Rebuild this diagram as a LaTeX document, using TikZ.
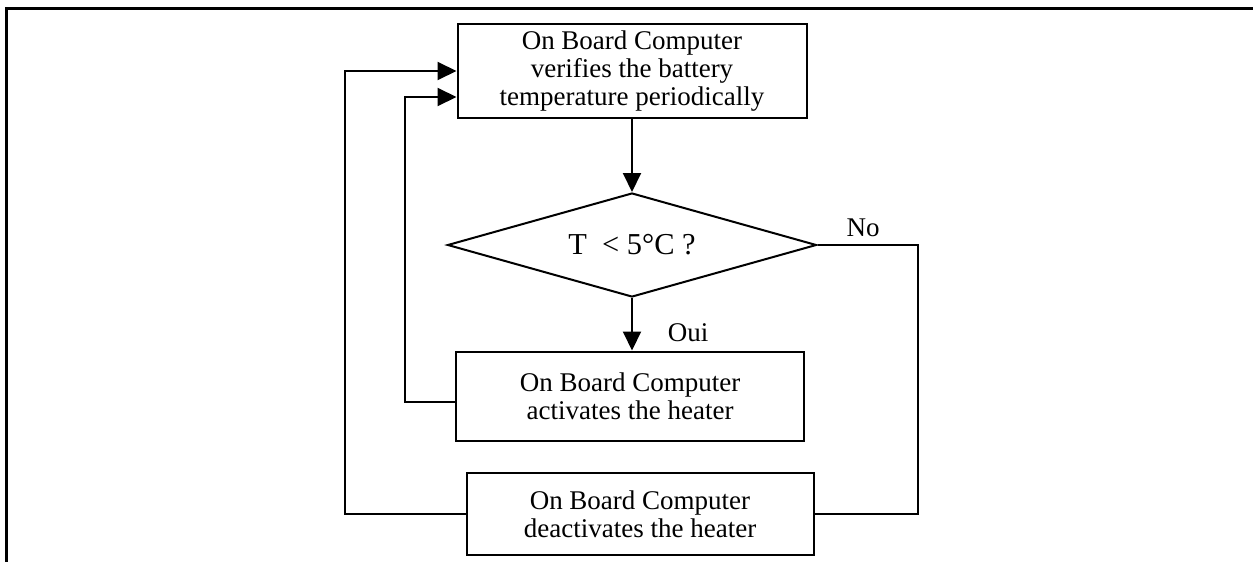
\documentclass[tikz,border=0pt]{standalone}
\usepackage{fontspec}
\setmainfont{Liberation Serif}
\usetikzlibrary{shapes.geometric, arrows.meta}

\begin{document}
\begin{tikzpicture}[x=0.5pt, y=-0.5pt,
        every node/.style={font=\fontsize{13.5}{13.8}\selectfont},
        box/.style={draw, line width=1pt, align=center, inner sep=0pt},
        test/.style={draw, diamond, aspect=3.5, line width=1pt, inner sep=0pt,
            minimum width=184.5pt, minimum height=52pt,
            font=\fontsize{15.2}{16}\selectfont},
        link/.style={line width=1pt},
        arr/.style={link, -{Triangle[length=9.5pt, width=9pt]}}]
        \useasboundingbox (0,0) rectangle (1253,562);
        \draw[line width=1.5pt] (6,562) -- (6,8) -- (1253,8);

        \node[box, minimum width=174.5pt, minimum height=47pt] (verify) at (632,71)
            {On Board Computer\\verifies the battery\\temperature periodically};
        \node[test] (temp) at (632,245) {T~~< 5°C ?};
        \node[box, minimum width=174pt, minimum height=44.5pt] (heaton) at (630,396)
            {On Board Computer\\activates the heater};
        \node[box, minimum width=173.5pt, minimum height=41pt] (heatoff) at (640,514)
            {On Board Computer\\deactivates the heater};

        \coordinate (inner) at (405,402);
        \coordinate (outer) at (345,514);
        \coordinate (right) at (918,245);

        \draw[arr] (verify.south) -- (temp.north);
        \draw[arr] (temp.south) -- (temp.south |- heaton.north);
        \node (oui) at (688,333) {Oui};
        \draw[link] (temp.east) -- (right) |- (heatoff.east);
        \node (no) at (863,228) {No};
        \draw[arr] (heaton.west |- inner) -- (inner) |- ([yshift=-13pt]verify.west);
        \draw[arr] (heatoff.west) -- (outer) |- (verify.west);
    \end{tikzpicture}
\end{document}
